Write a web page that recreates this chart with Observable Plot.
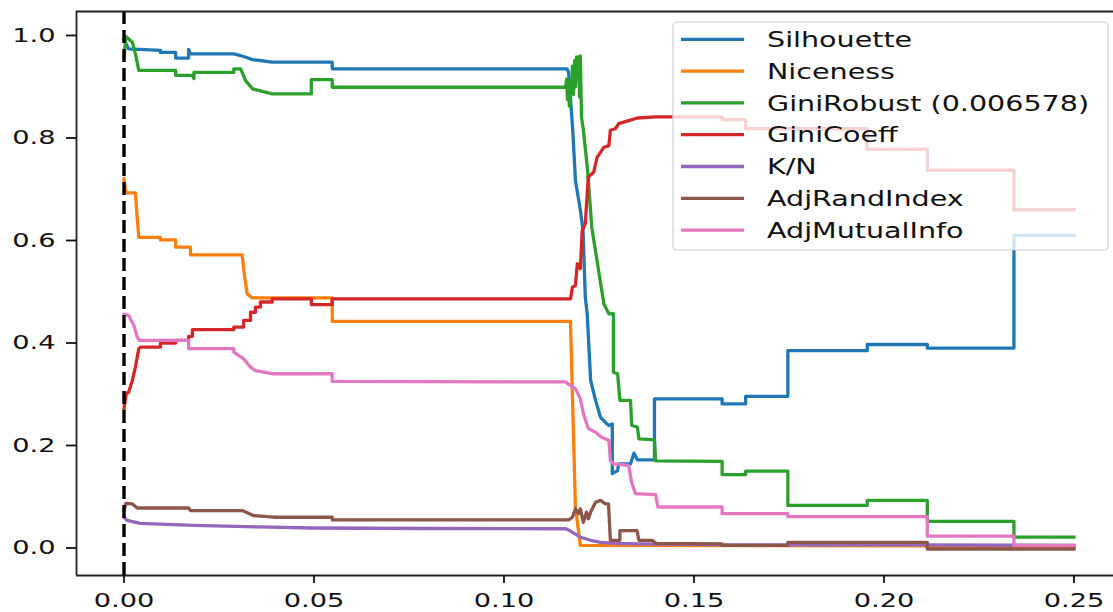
<!DOCTYPE html>
<html><head><meta charset="utf-8">
<script src="https://cdn.jsdelivr.net/npm/d3@7"></script>
<script src="https://cdn.jsdelivr.net/npm/@observablehq/plot@0.6"></script>
<style>
html,body{margin:0;padding:0;background:#fff;}
#chart svg{display:block;}
</style>
</head><body><div id="chart"></div>
<script>
// ---- data: [x, value] breakpoints ----
const silhouette = [[0,0.992],[0.0012,0.974],[0.0096,0.971],[0.0096,0.967],[0.0136,0.967],[0.0136,0.956],[0.0170,0.956],[0.0170,0.973],[0.0175,0.964],[0.0289,0.964],[0.0315,0.959],[0.0338,0.953],[0.0390,0.948],[0.0548,0.948],[0.0548,0.935],[0.1166,0.935],[0.1170,0.928],[0.1181,0.815],[0.1188,0.717],[0.1201,0.659],[0.1208,0.620],[0.1214,0.489],[0.1219,0.457],[0.1228,0.327],[0.1241,0.288],[0.1254,0.255],[0.1267,0.245],[0.1276,0.239],[0.1285,0.242],[0.1285,0.145],[0.1299,0.151],[0.1302,0.164],[0.1333,0.164],[0.1342,0.185],[0.1351,0.172],[0.1396,0.172],[0.1396,0.291],[0.1574,0.291],[0.1574,0.281],[0.1636,0.281],[0.1636,0.296],[0.1747,0.296],[0.1747,0.385],[0.1956,0.385],[0.1956,0.397],[0.2114,0.397],[0.2114,0.390],[0.2342,0.390],[0.2342,0.610],[0.25,0.610]];
const niceness = [[0,0.720],[0.0005,0.693],[0.0030,0.693],[0.0035,0.642],[0.0039,0.606],[0.0096,0.606],[0.0096,0.601],[0.0136,0.601],[0.0136,0.587],[0.0175,0.587],[0.0175,0.572],[0.0311,0.572],[0.0317,0.532],[0.0324,0.496],[0.0337,0.488],[0.0548,0.488],[0.0548,0.442],[0.1175,0.442],[0.1180,0.301],[0.1188,0.080],[0.1201,0.005],[0.2114,0.004],[0.2114,0.001],[0.25,0.001]];
const giniRobust = [[0,0.955],[0.0005,0.998],[0.0022,0.987],[0.0030,0.964],[0.0039,0.932],[0.0136,0.932],[0.0136,0.922],[0.0180,0.922],[0.0184,0.916],[0.0184,0.928],[0.0289,0.928],[0.0289,0.935],[0.0307,0.935],[0.0320,0.912],[0.0338,0.896],[0.0390,0.886],[0.0493,0.886],[0.0493,0.914],[0.0548,0.914],[0.0548,0.899],[0.1162,0.899],[0.1165,0.915],[0.1167,0.875],[0.1170,0.910],[0.1172,0.862],[0.1175,0.915],[0.1178,0.890],[0.1180,0.940],[0.1183,0.885],[0.1186,0.951],[0.1188,0.900],[0.1191,0.958],[0.1193,0.920],[0.1196,0.958],[0.1199,0.880],[0.1201,0.960],[0.1204,0.841],[0.1209,0.815],[0.1220,0.737],[0.1231,0.626],[0.1246,0.555],[0.1263,0.476],[0.1276,0.457],[0.1288,0.457],[0.1288,0.343],[0.1299,0.340],[0.1305,0.288],[0.1333,0.288],[0.1336,0.239],[0.1351,0.236],[0.1355,0.213],[0.1396,0.211],[0.1399,0.170],[0.1574,0.169],[0.1574,0.143],[0.1636,0.143],[0.1636,0.150],[0.1747,0.150],[0.1747,0.083],[0.1956,0.083],[0.1956,0.093],[0.2114,0.093],[0.2114,0.052],[0.2342,0.052],[0.2342,0.021],[0.25,0.021]];
const giniCoeff = [[0,0.272],[0.0006,0.301],[0.0012,0.304],[0.0022,0.327],[0.0030,0.353],[0.0039,0.389],[0.0043,0.392],[0.0096,0.392],[0.0096,0.400],[0.0136,0.400],[0.0136,0.405],[0.0170,0.405],[0.0170,0.413],[0.0180,0.413],[0.0180,0.426],[0.0289,0.426],[0.0289,0.431],[0.0315,0.431],[0.0315,0.444],[0.0333,0.444],[0.0333,0.460],[0.0346,0.460],[0.0346,0.470],[0.0359,0.470],[0.0359,0.480],[0.0390,0.480],[0.0390,0.486],[0.0493,0.486],[0.0493,0.475],[0.0548,0.475],[0.0548,0.486],[0.1175,0.486],[0.1180,0.509],[0.1188,0.512],[0.1193,0.555],[0.1201,0.545],[0.1206,0.620],[0.1214,0.633],[0.1222,0.724],[0.1236,0.733],[0.1245,0.762],[0.1254,0.772],[0.1263,0.782],[0.1276,0.785],[0.1280,0.815],[0.1293,0.818],[0.1302,0.828],[0.1328,0.834],[0.1351,0.839],[0.1399,0.841],[0.1574,0.841],[0.1574,0.836],[0.1636,0.836],[0.1636,0.818],[0.1956,0.818],[0.1956,0.778],[0.2114,0.778],[0.2114,0.737],[0.2342,0.737],[0.2342,0.660],[0.25,0.660]];
const kOverN = [[0,0.060],[0.0008,0.054],[0.0043,0.048],[0.0183,0.044],[0.0359,0.041],[0.0491,0.039],[0.0800,0.038],[0.1162,0.0375],[0.1175,0.033],[0.1201,0.021],[0.1228,0.015],[0.1254,0.011],[0.1293,0.009],[0.1359,0.008],[0.1600,0.006],[0.2100,0.006],[0.25,0.005]];
const adjRandIndex = [[0,0.073],[0.0005,0.087],[0.0022,0.086],[0.0035,0.078],[0.0170,0.078],[0.0175,0.073],[0.0311,0.073],[0.0342,0.063],[0.0394,0.060],[0.0548,0.060],[0.0548,0.055],[0.1171,0.055],[0.1180,0.060],[0.1188,0.0765],[0.1196,0.067],[0.1201,0.0765],[0.1209,0.050],[0.1217,0.070],[0.1222,0.057],[0.1228,0.070],[0.1241,0.089],[0.1254,0.093],[0.1267,0.086],[0.1275,0.086],[0.1280,0.015],[0.1305,0.015],[0.1305,0.034],[0.1350,0.034],[0.1355,0.015],[0.1390,0.015],[0.1400,0.009],[0.1574,0.008],[0.1574,0.005],[0.1747,0.005],[0.1747,0.011],[0.2114,0.011],[0.2114,-0.002],[0.25,-0.002]];
const adjMutualInfo = [[0,0.456],[0.0012,0.454],[0.0026,0.434],[0.0035,0.411],[0.0041,0.405],[0.0170,0.405],[0.0170,0.389],[0.0289,0.389],[0.0289,0.382],[0.0315,0.369],[0.0333,0.353],[0.0346,0.346],[0.0390,0.340],[0.0548,0.340],[0.0548,0.325],[0.1162,0.324],[0.1175,0.317],[0.1188,0.311],[0.1201,0.291],[0.1209,0.262],[0.1222,0.233],[0.1241,0.226],[0.1257,0.216],[0.1276,0.210],[0.1280,0.171],[0.1288,0.164],[0.1328,0.161],[0.1336,0.128],[0.1346,0.106],[0.1399,0.104],[0.1405,0.080],[0.1574,0.080],[0.1574,0.067],[0.1747,0.067],[0.1747,0.061],[0.2114,0.061],[0.2114,0.023],[0.2342,0.023],[0.2342,0.005],[0.25,0.005]];

const seriesNames = ["Silhouette","Niceness","GiniRobust (0.006578)","GiniCoeff","K/N","AdjRandIndex","AdjMutualInfo"];
const seriesColors = ["#1f77b4","#ff7f0e","#2ca02c","#d62728","#9467bd","#8c564b","#e377c2"];
const seriesValues = [silhouette, niceness, giniRobust, giniCoeff, kOverN, adjRandIndex, adjMutualInfo];
const xTicks = [0, 0.05, 0.10, 0.15, 0.20, 0.25];
const yTicks = [0, 0.2, 0.4, 0.6, 0.8, 1.0];
const markerX = [0];

const rows = seriesValues.flatMap((vals, i) => vals.map(([x, y]) => ({series: seriesNames[i], x, y})));

const xDomain = [-0.0125, 0.2604];
const yDomain = [-0.0537, 1.0468];

const chart = Plot.plot({
  width: 1113, height: 612,
  marginLeft: 76, marginRight: 0, marginTop: 11, marginBottom: 37,
  style: {fontFamily: "DejaVu Sans", fontSize: "20px", color: "#111", background: "#fff", overflow: "visible"},
  x: {domain: xDomain},
  y: {domain: yDomain},
  color: {domain: seriesNames, range: seriesColors},
  marks: [
    Plot.line(rows, {x: "x", y: "y", z: "series", stroke: "series", strokeWidth: 3.3, strokeLinecap: "square", strokeLinejoin: "round"}),
    Plot.ruleX(markerX, {stroke: "#000", strokeWidth: 3.4, strokeDasharray: "13,6"}),
    Plot.ruleX([xDomain[0]], {stroke: "#222", strokeWidth: 1.8}),
    Plot.ruleY([yDomain[0], yDomain[1]], {stroke: "#222", strokeWidth: 1.8}),
    Plot.axisX({ticks: xTicks, tickFormat: d3.format(".2f"), tickSize: 8, tickPadding: 9, strokeWidth: 1.8, label: null}),
    Plot.axisY({ticks: yTicks, tickFormat: d3.format(".1f"), tickSize: 10, tickPadding: 11, strokeWidth: 1.8, label: null})
  ]
});
document.getElementById("chart").appendChild(chart);

// legend (matplotlib style, inside the axes, upper right)
const svg = d3.select(chart);
const lg = svg.append("g").attr("class", "legend").attr("text-anchor", "start");
lg.append("rect").attr("x", 673).attr("y", 22).attr("width", 435).attr("height", 228)
  .attr("rx", 4).attr("fill", "#fff").attr("fill-opacity", 0.8)
  .attr("stroke", "#d0d0d0").attr("stroke-width", 1.2);
seriesNames.forEach((name, i) => {
  const cy = 39.3 + i * 31.8;
  lg.append("line").attr("x1", 681).attr("x2", 744).attr("y1", cy).attr("y2", cy)
    .attr("stroke", seriesColors[i]).attr("stroke-width", 3.3);
  lg.append("text").attr("x", 767).attr("y", cy + 7.6)
    .attr("text-anchor", "start")
    .attr("font-family", "DejaVu Sans").attr("font-size", 21).attr("fill", "#111")
    .text(name);
});

// horizontal stretch of the text, as in the reference image
chart.querySelectorAll("text").forEach(t => {
  const w = t.getComputedTextLength();
  if (w > 0) {
    t.setAttribute("textLength", (w * 1.36).toFixed(1));
    t.setAttribute("lengthAdjust", "spacingAndGlyphs");
  }
});
</script>
</body></html>
